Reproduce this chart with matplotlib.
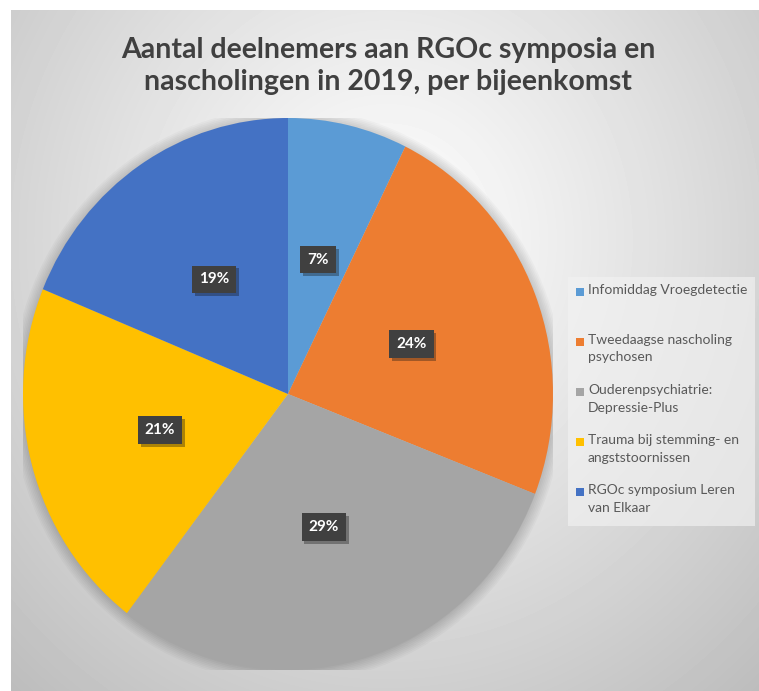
import numpy as np
import matplotlib
matplotlib.use("Agg")
import matplotlib.pyplot as plt
from matplotlib.patches import Rectangle, Ellipse
import matplotlib.patheffects as pe

# data
labels = ["Infomiddag Vroegdetectie",
          "Tweedaagse nascholing\npsychosen",
          "Ouderenpsychiatrie:\nDepressie-Plus",
          "Trauma bij stemming- en\nangststoornissen",
          "RGOc symposium Leren\nvan Elkaar"]
shares = [7.3, 23.6, 29.5, 20.8, 18.8]
colors = ["#5B9BD5", "#ED7D31", "#A5A5A5", "#FFC000", "#4472C4"]
title = "Aantal deelnemers aan RGOc symposia en\nnascholingen in 2019, per bijeenkomst"

plt.rcParams['font.family'] = ['Lato', 'DejaVu Sans']

W, H = 759, 691
fig = plt.figure(figsize=(W / 100, H / 100), dpi=100)

# radial gradient background of the chart area
bg = fig.add_axes([11 / W, 0, (W - 11) / W, (H - 10) / H])
yy, xx = np.mgrid[0:H - 10, 0:W - 11]
d = np.sqrt(((xx - 375) / 520.0) ** 2 + ((yy - 230) / 560.0) ** 2)
val = 1 - 0.24 * np.clip(d, 0, 1.4) ** 1.1
bg.imshow(val, cmap='gray', vmin=0, vmax=1, aspect='auto', interpolation='bilinear')
bg.axis('off')

# pie
ax = fig.add_axes([23 / W, 21 / H, 530 / W, 552 / H])
for i in range(8):
    ax.add_patch(Ellipse((0, -0.005), 2 + 0.012 * i, 2 + 0.012 * i,
                         fc='black', ec='none', alpha=0.025, zorder=0))
wedges, texts, autotexts = ax.pie(shares, colors=colors, startangle=90, counterclock=False,
                                  autopct='%.0f%%', pctdistance=0.5,
                                  wedgeprops=dict(linewidth=0, zorder=2))
for t in autotexts:
    t.set_color('white')
    t.set_fontweight('bold')
    t.set_fontsize(11)
    t.set_bbox(dict(boxstyle='square,pad=0.45', fc='#404040', ec='none'))
    t.get_bbox_patch().set_path_effects([pe.SimplePatchShadow(offset=(2, -2), alpha=0.35), pe.Normal()])
ax.set_aspect('auto')
ax.set_xlim(-1, 1)
ax.set_ylim(-1, 1)
ax.axis('off')

# title
fig.text(388 / W, 1 - 66 / H, title, ha='center', va='center', fontsize=20.5,
         fontweight='bold', color='#404040', linespacing=1.3)

# legend
fig.patches.append(Rectangle((568 / W, 1 - 526 / H), 187 / W, 249 / H, transform=fig.transFigure,
                             fc='#f2f2f2', ec='none', alpha=0.65))
for i, (lab, c) in enumerate(zip(labels, colors)):
    y0 = 292 + 50 * i
    fig.patches.append(Rectangle((576 / W, 1 - (y0 + 4) / H), 8 / W, 8 / H,
                                 transform=fig.transFigure, fc=c, ec='none'))
    fig.text(588 / W, 1 - (y0 - 8) / H, lab, ha='left', va='top', fontsize=10,
             color='#595959', linespacing=1.55)

fig.savefig("out.png", dpi=100)
